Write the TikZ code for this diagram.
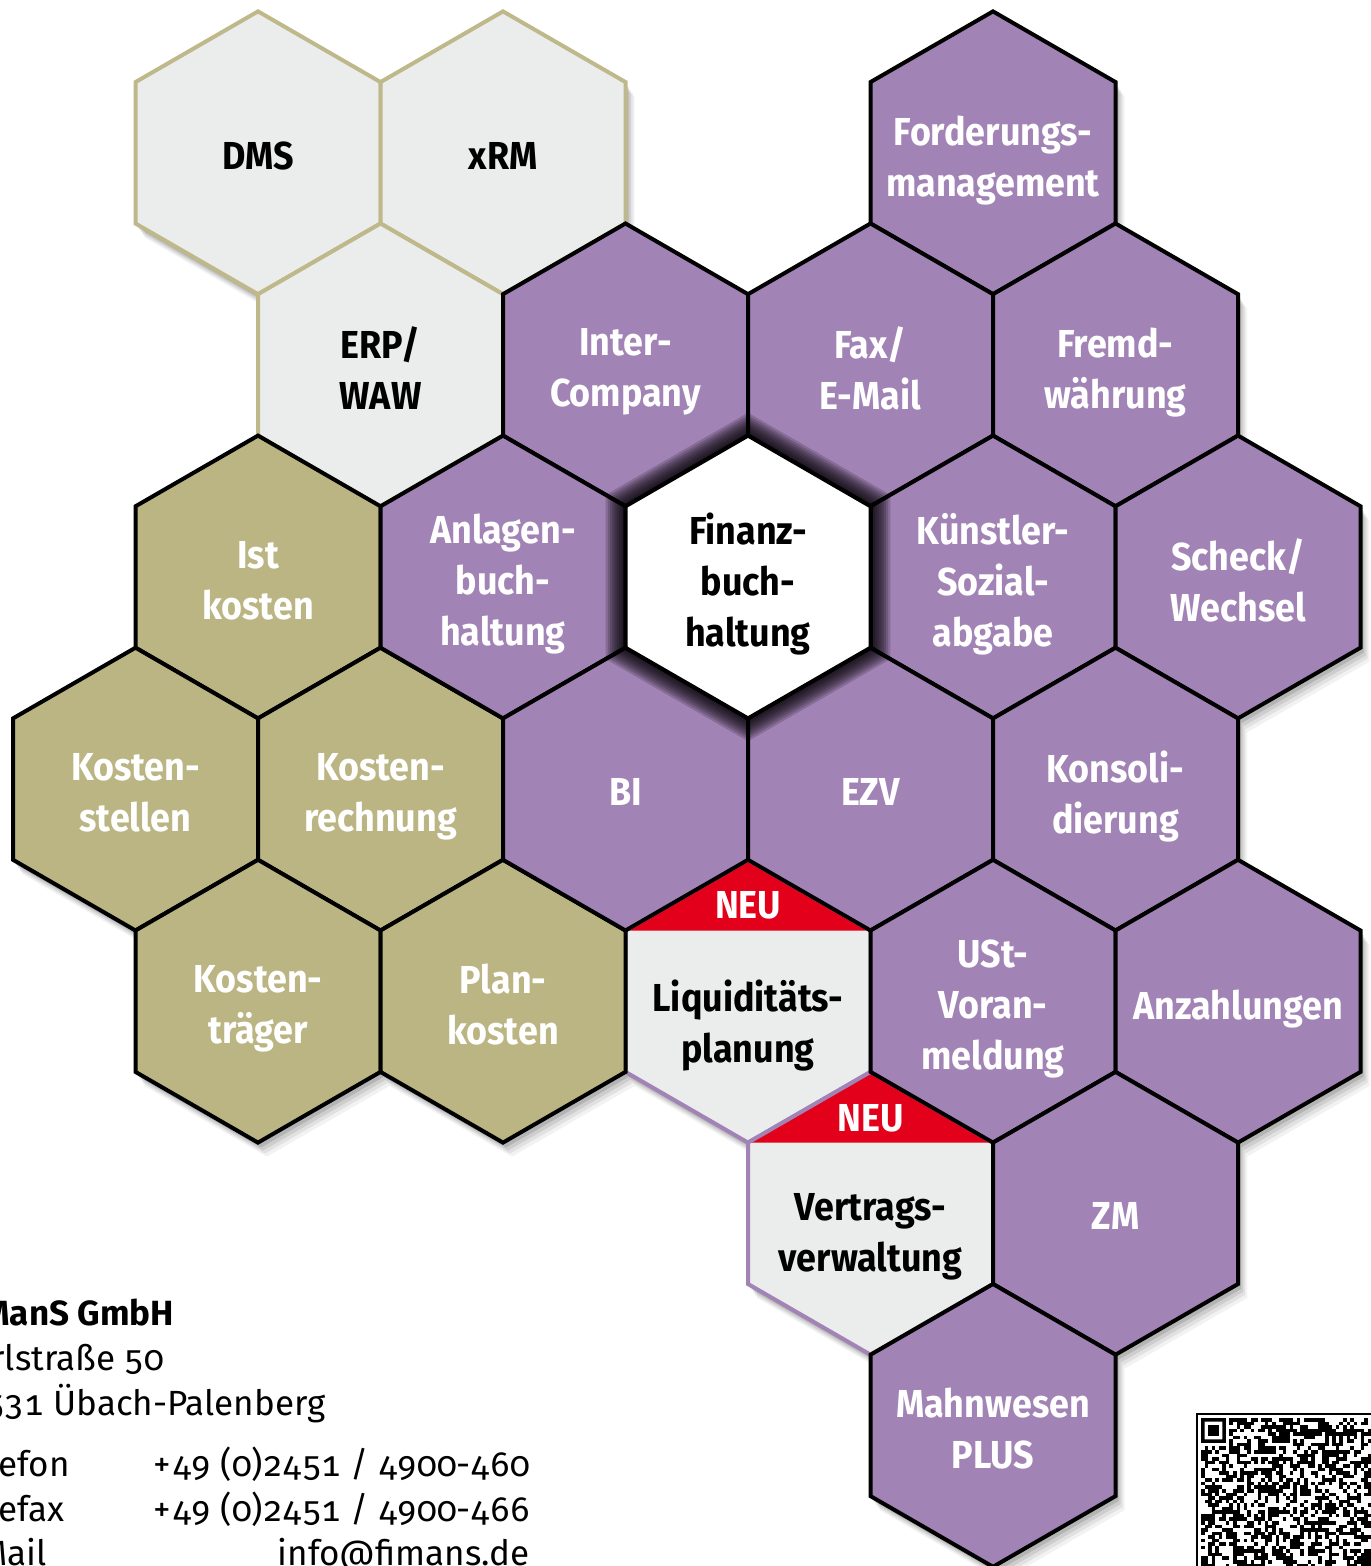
\documentclass[tikz,border=0pt]{standalone}
\usepackage{fontspec}
\setmainfont{Fira Sans}[Numbers={OldStyle,Monospaced}]
\newfontfamily\hexfamily{Fira Sans}[FakeStretch=0.92]

\definecolor{lila}{RGB}{162,131,181}
\definecolor{oliv}{RGB}{186,181,131}
\definecolor{hellgrau}{RGB}{235,237,236}
\definecolor{khaki}{RGB}{191,184,139}
\definecolor{neurot}{RGB}{226,0,26}

\newcommand{\hexfont}{\hexfamily\fontsize{19.5}{25.5}\selectfont\bfseries}
\newcommand{\adrfont}{\fontsize{17.5}{21}\selectfont}

\tikzset{
  hex/.pic={\path[pic actions] (0,-141.4) -- (122.5,-70.7) -- (122.5,70.7)
    -- (0,141.4) -- (-122.5,70.7) -- (-122.5,-70.7) -- cycle;},
  hexcap/.pic={\path[pic actions] (0,-141.4) -- (122.5,-70.7) -- (-122.5,-70.7) -- cycle;},
  hexlabel/.style={align=center, font=\hexfont, text=white, inner sep=0pt, text depth=0pt},
  darklabel/.style={hexlabel, text=black},
  adr/.style={font=\adrfont, inner sep=0pt},
}

\begin{document}
\begin{tikzpicture}[x=0.5pt,y=-0.5pt]
  \useasboundingbox (0,0) rectangle (1370,1566);

  % soft shadow under the whole honeycomb
  \foreach \dx/\dy/\o in {9/14/.05, 7/11/.07, 5/8/.09, 3/5/.12} {
    \foreach \k/\j in {1/0,3/0,7/0,2/1,4/1,6/1,8/1,1/2,3/2,5/2,7/2,9/2,
                       0/3,2/3,4/3,6/3,8/3,1/4,3/4,5/4,7/4,9/4,6/5,8/5,7/6}
      \pic[fill=black, opacity=\o] at ({135.5+122.5*\k+\dx},{152.8+212.1*\j+\dy}) {hex};
  }

  % gray modules, framed in khaki
  \foreach \k/\j in {1/0,3/0,2/1}
    \pic[fill=hellgrau, draw=khaki, line width=2pt] at ({135.5+122.5*\k},{152.8+212.1*\j}) {hex};

  % new modules with red cap
  \foreach \k/\j in {5/4,6/5} {
    \pic[fill=hellgrau] at ({135.5+122.5*\k},{152.8+212.1*\j}) {hex};
    \pic[fill=neurot] at ({135.5+122.5*\k},{152.8+212.1*\j}) {hexcap};
    \pic[draw=lila, line width=2pt] at ({135.5+122.5*\k},{152.8+212.1*\j}) {hex};
  }

  % olive block: cost accounting
  \foreach \k/\j in {1/2,0/3,2/3,1/4,3/4}
    \pic[fill=oliv, draw=black, line width=2pt] at ({135.5+122.5*\k},{152.8+212.1*\j}) {hex};

  % purple block: finance modules
  \foreach \k/\j in {7/0,4/1,6/1,8/1,3/2,7/2,9/2,4/3,6/3,8/3,7/4,9/4,8/5,7/6}
    \pic[fill=lila, draw=black, line width=2pt] at ({135.5+122.5*\k},{152.8+212.1*\j}) {hex};

  % dark halo round the core
  \foreach \s in {0,...,9}
    \pic[fill=black, opacity=.17, scale=1+0.018*\s] at (748,577) {hex};
  \pic[fill=white, draw=black, line width=2pt] at (748,577) {hex};

  % labels
  \foreach \k/\j/\n/\t in {1/0/dms/DMS, 3/0/xrm/xRM, 2/1/erp/{ERP/\\WAW},
                           5/2/fibu/{Finanz-\\buch-\\haltung}}
    \node[darklabel] (\n) at ({135.5+122.5*\k},{155.8+212.1*\j}) {\t};

  \foreach \k/\j/\n/\t in {7/0/ford/{Forderungs-\\management},
                           4/1/inter/{Inter-\\Company},
                           6/1/fax/{Fax/\\E-Mail},
                           8/1/fremd/{Fremd-\\währung},
                           1/2/ist/{Ist\\kosten},
                           3/2/anlage/{Anlagen-\\buch-\\haltung},
                           7/2/ksk/{Künstler-\\Sozial-\\abgabe},
                           9/2/scheck/{Scheck/\\Wechsel},
                           0/3/kst/{Kosten-\\stellen},
                           2/3/kre/{Kosten-\\rechnung},
                           4/3/bi/BI,
                           6/3/ezv/EZV,
                           8/3/konso/{Konsoli-\\dierung},
                           1/4/ktr/{Kosten-\\träger},
                           3/4/plan/{Plan-\\kosten},
                           7/4/ust/{USt-\\Voran-\\meldung},
                           9/4/anz/Anzahlungen,
                           8/5/zm/ZM,
                           7/6/mahn/{Mahnwesen\\PLUS}}
    \node[hexlabel] (\n) at ({135.5+122.5*\k},{155.8+212.1*\j}) {\t};

  \node[darklabel] (liqui) at (748,1021) {Liquiditäts-\\planung};
  \node[hexlabel] (neu1) at (748,905) {NEU};
  \node[darklabel] (vertrag) at (870.5,1232) {Vertrags-\\verwaltung};
  \node[hexlabel] (neu2) at (870.5,1118) {NEU};

  % address block, cut at the left page edge
  \node[adr, font=\adrfont\bfseries, anchor=base west] (firma) at (-18,1325) {ManS GmbH};
  \node[adr, anchor=base west] (strasse) at (-9,1370) {rlstraße 50};
  \node[adr, anchor=base west] (ort) at (-15,1415) {531 Übach-Palenberg};
  \node[adr, anchor=base west] (tel) at (-2,1476) {efon};
  \node[adr, anchor=base west] (fax) at (-2,1521) {efax};
  \node[adr, anchor=base west] (mail) at (-20,1565) {Mail};
  \node[adr, anchor=base east] (telnr) at (530,1476) {+49 (0)2451 / 4900-460};
  \node[adr, anchor=base east] (faxnr) at (530,1521) {+49 (0)2451 / 4900-466};
  \node[adr, anchor=base east] (mailadr) at (530,1565) {info@fimans.de};

  % QR code, cut off at the page corner
  \draw[line width=0.6pt] (1197,1414) rectangle (1400,1600);
  \pgfmathsetseed{4711}
  \foreach \i in {0,...,48}
    \foreach \j in {0,...,42} {
      \pgfmathrandominteger{\b}{0}{1}
      \ifnum\i<8 \ifnum\j<8 \def\b{0}\fi\fi
      \ifnum\b=1
        \fill (1201+3.55*\i,1418+3.55*\j) rectangle ++(3.55,3.55);
      \fi
    }
  \fill[even odd rule] (1201,1418) rectangle ++(24.85,24.85)
    (1204.55,1421.55) rectangle ++(17.75,17.75);
  \fill (1208.1,1425.1) rectangle ++(10.65,10.65);
\end{tikzpicture}
\end{document}
